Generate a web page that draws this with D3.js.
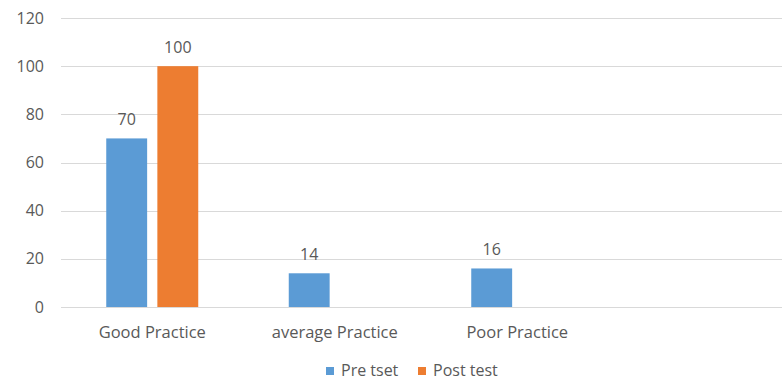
<!DOCTYPE html>
<html><head><meta charset="utf-8">
<script src="https://cdn.jsdelivr.net/npm/d3@7"></script>
<style>body{margin:0;background:#fff}svg{display:block}text{font-family:"Open Sans",sans-serif;fill:#595959}</style>
</head><body>
<svg id="c" width="782" height="381"></svg>
<script>
const categories = ["Good Practice", "average Practice", "Poor Practice", ""];
const seriesNames = ["Pre tset", "Post test"];
const preTest = [70, 14, 16, null];
const postTest = [100, null, null, null];
const yTicks = [0, 20, 40, 60, 80, 100, 120];
const colors = ["#5B9BD5", "#ED7D31"];

const svg = d3.select("#c");
const mLeft = 61, mRight = 791, mTop = 18, mBottom = 307;
const x = d3.scaleBand().domain(d3.range(categories.length)).range([mLeft, mRight]).paddingInner(0).paddingOuter(0);
const y = d3.scaleLinear().domain([0, 120]).range([mBottom, mTop]);
const inner = d3.scaleBand().domain([0, 1]).range([0, 92]).paddingInner(0.2);
const groupOffset = (x.bandwidth() - 92) / 2;

// gridlines
svg.append("g").selectAll("line").data(yTicks).join("line")
  .attr("x1", mLeft).attr("x2", mRight)
  .attr("y1", d => Math.round(y(d)) + 0.5).attr("y2", d => Math.round(y(d)) + 0.5)
  .attr("stroke", "#D9D9D9").attr("stroke-width", 1);

// y axis labels
const yAxis = d3.axisLeft(y).tickValues(yTicks).tickSize(0).tickPadding(0);
const ya = svg.append("g").attr("transform", "translate(44,0)").call(yAxis);
ya.select(".domain").remove();
ya.selectAll("text").style("font-size", "16px").attr("fill", "#595959").attr("font-family", "'Open Sans',sans-serif");

// x axis labels
const xAxis = d3.axisBottom(x).tickFormat(i => categories[i]).tickSize(0).tickPadding(0);
const xa = svg.append("g").attr("transform", "translate(0,0)").call(xAxis);
xa.select(".domain").remove();
xa.selectAll("text").attr("y", 338).attr("dy", 0).style("font-size", "16.5px").attr("fill", "#595959").attr("font-family", "'Open Sans',sans-serif");

const series = [preTest, postTest];
series.forEach((vals, s) => {
  const data = vals.map((v, i) => ({v, i})).filter(d => d.v != null);
  const g = svg.append("g");
  g.selectAll("rect").data(data).join("rect")
    .attr("x", d => x(d.i) + groupOffset + inner(s))
    .attr("width", inner.bandwidth())
    .attr("y", d => y(d.v))
    .attr("height", d => y(0) - y(d.v))
    .attr("fill", colors[s]);
  g.selectAll("text").data(data).join("text")
    .attr("x", d => x(d.i) + groupOffset + inner(s) + inner.bandwidth() / 2)
    .attr("y", d => y(d.v) - 13)
    .attr("text-anchor", "middle")
    .style("font-size", "16px")
    .text(d => d.v);
});

// legend
const legendX = [326, 418];
const lg = svg.append("g");
seriesNames.forEach((n, s) => {
  lg.append("rect").attr("x", legendX[s]).attr("y", 367).attr("width", 8).attr("height", 8).attr("fill", colors[s]);
  lg.append("text").attr("x", legendX[s] + 15).attr("y", 376).style("font-size", "16px").text(n);
});
</script>
</body></html>
